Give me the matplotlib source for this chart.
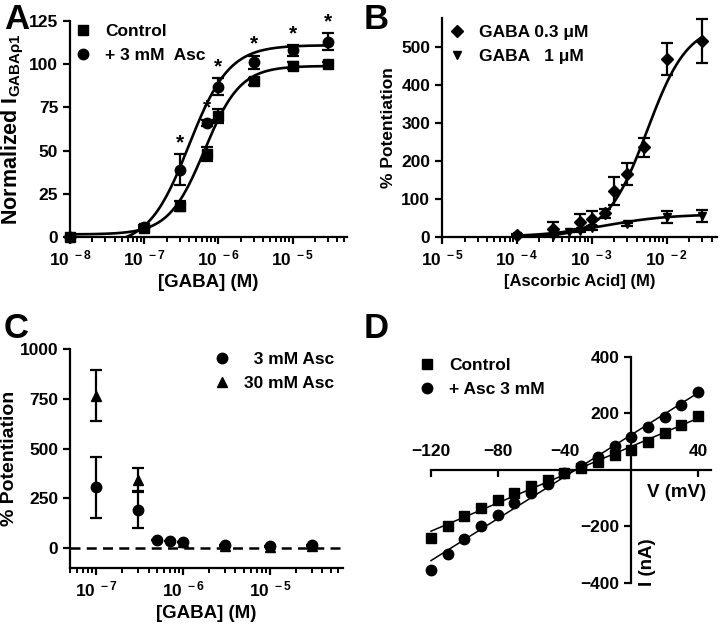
import matplotlib.pyplot as plt
import numpy as np
from matplotlib.lines import Line2D
from matplotlib.ticker import LogLocator, NullFormatter

# ---------------- data ----------------
# A: concentration-response, GABA rho1
gabaA = [1e-8, 1e-7, 3e-7, 7e-7, 1e-6, 3e-6, 1e-5, 3e-5]
ctrlA = [0, 5, 18, 48, 70, 90, 99, 100]
ctrlA_err = [0, 1, 3, 4, 4, 2, 2, 1]
ascA = [0, 6, 39, 66, 87, 101, 108, 113]
ascA_err = [0, 1, 9, 2, 5, 4, 3, 5]
starsA = [2, 3, 4, 5, 6, 7]
# hill fit params: bottom, top, ec50, n
fitA_ctrl = [1.5, 99, 6.5e-7, 1.8]
fitA_asc = [-5, 111, 4.0e-7, 1.6]

# B: potentiation vs ascorbic acid
ascB_03 = [1e-4, 3e-4, 7e-4, 1e-3, 1.5e-3, 2e-3, 3e-3, 5e-3, 1e-2, 3e-2]
potB_03 = [5, 22, 40, 48, 62, 120, 165, 235, 467, 515]
potB_03_err = [3, 18, 20, 20, 12, 37, 28, 25, 42, 57]
ascB_1 = [1e-4, 3e-4, 5e-4, 7e-4, 1e-3, 3e-3, 1e-2, 3e-2]
potB_1 = [2, 3, 12, 15, 23, 33, 52, 55]
potB_1_err = [0, 0, 0, 3, 5, 3, 15, 15]
fitB_03 = [0, 560, 5.5e-3, 1.6]
fitB_1 = [0, 60, 1.5e-3, 1.0]

# C: potentiation vs GABA
gabaC_3 = [1e-7, 3e-7, 5e-7, 7e-7, 1e-6, 3e-6, 1e-5, 3e-5]
potC_3 = [305, 192, 42, 38, 33, 17, 12, 13]
potC_3_err = [152, 90, 0, 0, 0, 0, 0, 0]
gabaC_30 = [1e-7, 3e-7, 1e-6, 3e-6, 1e-5, 3e-5]
potC_30 = [765, 343, 30, 10, 5, 8]
potC_30_err = [128, 57, 0, 0, 0, 0]

# D: I-V
voltD = [-120, -110, -100, -90, -80, -70, -60, -50, -40, -30, -20, -10, 0, 10, 20, 30, 40]
ctrlD = [-240, -197, -162, -133, -106, -83, -57, -35, -12, 8, 27, 53, 71, 100, 130, 159, 192]
ascD = [-354, -298, -245, -200, -159, -118, -83, -51, -12, 15, 47, 86, 118, 151, 189, 230, 275]


def hill(x, p):
    bottom, top, ec50, n = p
    return bottom + (top - bottom) / (1 + (ec50 / x) ** n)


def logfmt(e):
    return r'$10^{\ %d}$' % e


plt.rcParams['font.family'] = 'Liberation Sans'
plt.rcParams['font.weight'] = 'bold'
plt.rcParams['font.size'] = 12.5
plt.rcParams['mathtext.fontset'] = 'custom'
plt.rcParams['mathtext.rm'] = 'Liberation Sans:bold'
plt.rcParams['mathtext.it'] = 'Liberation Sans:bold:italic'
plt.rcParams['mathtext.bf'] = 'Liberation Sans:bold'
plt.rcParams['mathtext.default'] = 'rm'
plt.rcParams['axes.linewidth'] = 1.6
plt.rcParams['xtick.major.width'] = 1.6
plt.rcParams['ytick.major.width'] = 1.6
plt.rcParams['xtick.minor.width'] = 1.4
plt.rcParams['xtick.major.size'] = 5
plt.rcParams['ytick.major.size'] = 5
plt.rcParams['xtick.minor.size'] = 3.5
plt.rcParams['axes.labelweight'] = 'bold'
plt.rcParams['axes.labelsize'] = 13.5

fig = plt.figure(figsize=(7.2, 6.29), dpi=100)

eb = dict(color='k', ls='none', capsize=4, elinewidth=1.6, capthick=1.6, clip_on=False, zorder=3)


def log_axis(ax, lo, hi, decades):
    ax.set_xscale('log')
    ax.set_xlim(lo, hi)
    ax.set_xticks([10.0 ** d for d in decades])
    ax.set_xticklabels([logfmt(d) for d in decades])
    ax.xaxis.set_minor_locator(LogLocator(base=10, subs=np.arange(2, 10), numticks=30))
    ax.xaxis.set_minor_formatter(NullFormatter())
    ax.spines['top'].set_visible(False)
    ax.spines['right'].set_visible(False)


###############################################################################
# A
axA = fig.add_axes([0.0972, 0.6232, 0.3847, 0.3434])
log_axis(axA, 1e-8, 5.4e-5, [-8, -7, -6, -5])
axA.set_ylim(0, 125)
axA.set_yticks([0, 25, 50, 75, 100, 125])
xx = np.logspace(-8, np.log10(3.3e-5), 300)
axA.plot(xx, hill(xx, fitA_ctrl), 'k-', lw=1.9)
axA.plot(xx, hill(xx, fitA_asc), 'k-', lw=1.9)
axA.errorbar(gabaA, ctrlA, yerr=ctrlA_err, marker='s', ms=7.5, **eb)
axA.errorbar(gabaA, ascA, yerr=ascA_err, marker='o', ms=7.5, **eb)
for i in starsA:
    axA.annotate('*', (gabaA[i], ascA[i] + ascA_err[i]), xytext=(0, 1.5),
                 textcoords='offset points', ha='center', va='bottom', fontsize=15)
axA.set_xlabel('[GABA] (M)')
axA.set_ylabel(r'Normalized I$_{GABA\rho 1}$', fontsize=15.5, labelpad=2)
axA.legend([Line2D([], [], marker='s', ls='none', color='k', ms=7.5),
            Line2D([], [], marker='o', ls='none', color='k', ms=7.5)],
           ['Control', '+ 3 mM  Asc'], loc='upper left', bbox_to_anchor=(74 / 720, 1 - 24 / 629),
           bbox_transform=fig.transFigure, frameon=False, borderpad=0, borderaxespad=0,
           handlelength=1, handletextpad=0.8, labelspacing=0.5)

###############################################################################
# B
axB = fig.add_axes([0.6139, 0.6232, 0.3819, 0.3482])
log_axis(axB, 1e-5, 4.7e-2, [-5, -4, -3, -2])
axB.set_ylim(0, 575)
axB.set_yticks([0, 100, 200, 300, 400, 500])
xx = np.logspace(-4, np.log10(3e-2), 300)
axB.plot(xx, hill(xx, fitB_03), 'k-', lw=1.9)
axB.plot(xx, hill(xx, fitB_1), 'k-', lw=1.9)
axB.errorbar(ascB_03, potB_03, yerr=potB_03_err, marker='D', ms=6.5, **eb)
axB.errorbar(ascB_1, potB_1, yerr=potB_1_err, marker='v', ms=6, **eb)
axB.set_xlabel('[Ascorbic Acid] (M)', fontsize=12)
axB.set_ylabel('% Potentiation', fontsize=12.5)
axB.legend([Line2D([], [], marker='D', ls='none', color='k', ms=6.5),
            Line2D([], [], marker='v', ls='none', color='k', ms=6)],
           ['GABA 0.3 \u03bcM', 'GABA   1 \u03bcM'], loc='upper left',
           bbox_to_anchor=(448 / 720, 1 - 25 / 629),
           bbox_transform=fig.transFigure, frameon=False, borderpad=0, borderaxespad=0,
           handlelength=1, handletextpad=0.8, labelspacing=0.5)

###############################################################################
# C
axC = fig.add_axes([0.0972, 0.0970, 0.3792, 0.3482])
log_axis(axC, 5e-8, 6.9e-5, [-7, -6, -5])
axC.set_ylim(-100, 1000)
axC.set_yticks([0, 250, 500, 750, 1000])
axC.axhline(0, color='k', ls=(0, (4, 2.5)), lw=1.8, zorder=1)
axC.errorbar(gabaC_30, potC_30, yerr=potC_30_err, marker='^', ms=7, **eb)
axC.errorbar(gabaC_3, potC_3, yerr=potC_3_err, marker='o', ms=7.5, **eb)
axC.set_xlabel('[GABA] (M)')
axC.set_ylabel('% Potentiation', fontsize=14, labelpad=1)
axC.legend([Line2D([], [], marker='o', ls='none', color='k', ms=7.5),
            Line2D([], [], marker='^', ls='none', color='k', ms=7)],
           ['  3 mM Asc', '30 mM Asc'], loc='upper left',
           bbox_to_anchor=(213 / 720, 1 - 352 / 629),
           bbox_transform=fig.transFigure, frameon=False, borderpad=0, borderaxespad=0,
           handlelength=1, handletextpad=0.8, labelspacing=0.5)

###############################################################################
# D
axD = fig.add_axes([0.5833, 0.0620, 0.4097, 0.3816])
axD.set_xlim(-126.6, 50.2)
axD.set_ylim(-424.8, 424.8)
axD.spines['left'].set_position(('data', 0))
axD.spines['bottom'].set_position(('data', 0))
axD.spines['top'].set_visible(False)
axD.spines['right'].set_visible(False)
axD.spines['bottom'].set_bounds(-120, 48)
axD.spines['left'].set_bounds(-400, 400)
axD.set_xticks([-120, -80, -40, 40])
axD.set_yticks([-400, -200, 200, 400])
axD.tick_params(axis='x', pad=-24)
vv = np.array([-120, 40])
for cur in [ctrlD, ascD]:
    k = np.polyfit(voltD, cur, 1)
    axD.plot(vv, np.polyval(k, vv), 'k-', lw=1.1, zorder=2)
axD.plot(voltD, ctrlD, 'ks', ms=7, clip_on=False, zorder=3)
axD.plot(voltD, ascD, 'ko', ms=7.5, clip_on=False, zorder=3)
axD.text(27, -78, 'V (mV)', ha='center', va='center', fontsize=13.5)
axD.text(10, -326, 'I (nA)', ha='center', va='center', rotation=90, fontsize=13.5)
axD.legend([Line2D([], [], marker='s', ls='none', color='k', ms=7),
            Line2D([], [], marker='o', ls='none', color='k', ms=7.5)],
           ['Control', '+ Asc 3 mM'], loc='upper left',
           bbox_to_anchor=(418 / 720, 1 - 358 / 629),
           bbox_transform=fig.transFigure, frameon=False, borderpad=0, borderaxespad=0,
           handlelength=1, handletextpad=0.8, labelspacing=0.5)

# panel letters
for lab, x, y in [('A', 4, 3), ('B', 364, 3), ('C', 4, 312), ('D', 364, 312)]:
    fig.text(x / 720, 1 - y / 629, lab, fontsize=25, fontweight='bold', ha='left', va='top')

plt.savefig('out.png', dpi=100)
